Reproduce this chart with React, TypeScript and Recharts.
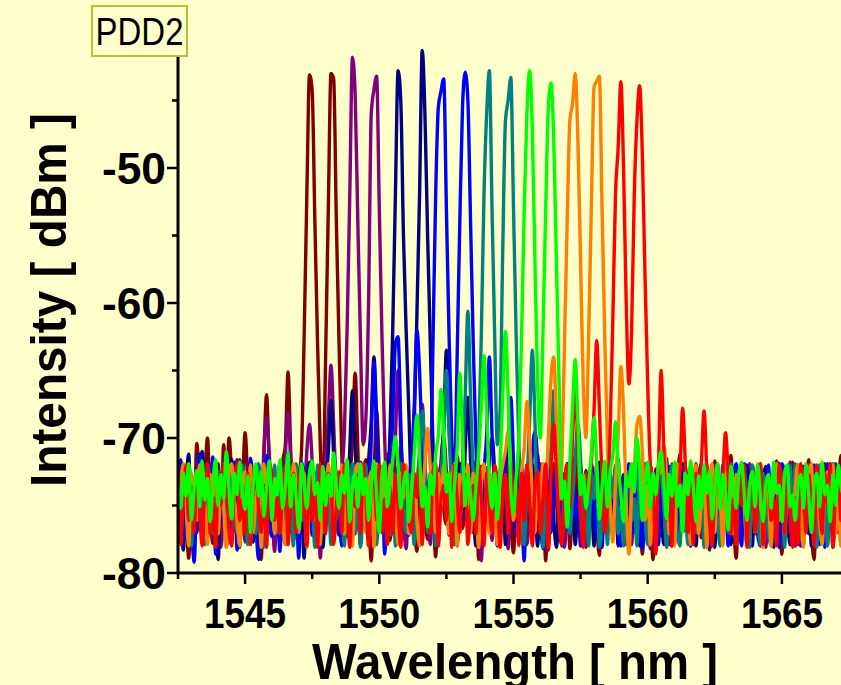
import { LineChart, Line, XAxis, YAxis } from 'recharts';

// OSA traces sampled every 0.1 nm from 1542.5 to 1567.5 nm (dBm)
const BROWN = [
  -73.8, -77.2, -72.1, -75.4, -78.9, -74.0, -76.1, -70.4, -73.5, -76.6,
  -72.9, -70.0, -75.2, -77.8, -73.6, -71.9, -76.4, -70.5, -74.2, -70.0,
  -72.8, -76.9, -71.6, -77.4, -73.9, -69.6, -73.2, -76.0, -74.8, -72.3,
  -75.1, -79.0, -71.5, -66.8, -71.8, -74.3, -77.1, -72.7, -76.5, -71.9,
  -70.5, -65.1, -71.0, -75.9, -77.4, -73.1, -71.0, -62.5, -52.0, -43.1,
  -44.3, -54.0, -63.0, -70.5, -74.6, -64.0, -53.0, -43.0, -43.4, -54.0,
  -63.0, -71.0, -75.8, -77.3, -73.4, -70.0, -65.2, -70.8, -76.9, -73.0,
  -71.6, -75.3, -79.1, -73.2, -68.0, -72.4, -76.1, -74.3, -71.2, -77.6,
  -74.5, -72.2, -73.6, -70.5, -73.9, -76.8, -75.0, -71.8, -76.3, -78.4,
  -73.0, -71.4, -75.7, -77.5, -72.6, -74.9, -78.8, -73.7, -72.0, -75.2,
  -76.4, -73.1, -74.6, -77.9, -71.3, -73.8, -76.7, -75.1, -72.5, -76.0,
  -73.9, -71.7, -79.0, -74.8, -72.9, -76.2, -73.5, -77.3, -72.2, -75.5,
  -72.7, -76.8, -74.1, -71.5, -75.6, -78.5, -73.6, -72.4, -77.0, -74.3,
  -76.9, -72.8, -75.3, -73.4, -71.2, -76.5, -74.0, -79.1, -73.1, -75.2,
  -71.9, -74.7, -77.6, -73.8, -75.9, -72.6, -78.2, -74.9, -71.4, -76.3,
  -73.5, -77.8, -72.4, -75.0, -71.8, -74.6, -76.4, -78.7, -73.2, -72.1,
  -75.6, -72.5, -76.9, -74.4, -71.6, -76.1, -73.7, -77.9, -72.8, -74.5,
  -76.3, -71.8, -73.6, -78.6, -74.7, -72.7, -75.4, -79.0, -72.3, -73.8,
  -77.2, -74.6, -71.5, -75.1, -72.9, -77.8, -73.6, -71.2, -75.0, -76.9,
  -72.8, -74.9, -76.7, -71.9, -73.8, -77.4, -75.3, -72.6, -78.3, -74.5,
  -71.7, -75.8, -73.5, -77.1, -72.4, -74.6, -71.3, -76.2, -78.9, -73.7,
  -75.0, -72.3, -74.8, -77.5, -72.9, -76.0, -73.8, -71.9, -77.8, -74.6,
  -72.6, -76.3, -73.9, -71.7, -75.2, -78.6, -72.8, -74.7, -76.2, -71.8,
  -74.9, -77.0, -72.7, -75.5, -73.4, -71.6, -76.8, -79.0, -73.3, -72.5,
  -75.2, -71.9, -77.3, -74.5, -72.6, -76.0, -73.7, -71.3, -75.1, -77.2,
  -73.8,
];

const PURPLE = [
  -75.3, -72.5, -77.0, -73.9, -71.8, -76.2, -78.8, -72.9, -74.6, -71.6,
  -76.7, -73.5, -72.0, -77.3, -74.8, -72.4, -78.1, -75.2, -71.9, -73.9,
  -77.2, -74.6, -72.7, -71.6, -75.0, -77.7, -73.4, -71.8, -76.1, -74.3,
  -72.6, -76.2, -70.8, -68.5, -71.2, -75.0, -78.4, -73.6, -71.9, -77.0,
  -71.3, -68.2, -71.8, -76.0, -73.5, -77.6, -72.6, -74.2, -71.0, -69.0,
  -71.8, -76.1, -73.3, -78.9, -74.6, -71.7, -68.5, -64.6, -69.0, -74.2,
  -76.5, -72.8, -69.5, -62.0, -52.0, -41.8, -44.5, -54.0, -63.0, -70.5,
  -68.5, -60.0, -46.0, -44.2, -43.2, -53.0, -62.5, -70.0, -74.6, -72.3,
  -75.1, -70.0, -65.0, -70.3, -76.0, -78.2, -73.7, -71.8, -77.1, -74.5,
  -71.8, -67.5, -71.9, -75.2, -77.9, -72.9, -74.7, -77.2, -71.7, -70.0,
  -72.5, -77.2, -74.4, -72.0, -78.0, -75.2, -72.6, -76.1, -73.5, -71.9,
  -77.0, -74.3, -72.8, -79.1, -73.7, -72.2, -75.0, -77.6, -72.9, -74.5,
  -76.0, -71.8, -73.6, -78.2, -74.6, -72.7, -77.0, -75.3, -72.1, -73.8,
  -77.9, -75.0, -72.5, -74.7, -77.2, -71.9, -73.7, -76.2, -78.3, -72.8,
  -74.4, -72.0, -76.8, -73.6, -78.1, -75.1, -72.7, -71.9, -77.0, -74.5,
  -72.6, -76.2, -78.1, -73.5, -72.0, -75.0, -77.6, -74.5, -72.8, -76.0,
  -71.9, -74.6, -77.2, -72.7, -78.0, -73.7, -75.1, -72.2, -76.1, -77.9,
  -73.6, -72.5, -75.0, -77.3, -71.9, -74.4, -78.2, -76.0, -72.6, -73.8,
  -77.1, -72.0, -74.5, -77.9, -75.1, -72.7, -73.5, -77.0, -72.1, -74.9,
  -74.6, -78.0, -72.8, -73.4, -76.1, -71.9, -77.1, -74.5, -78.2, -72.6,
  -75.0, -72.1, -77.0, -74.4, -72.7, -77.9, -73.6, -76.1, -72.0, -76.9,
  -72.6, -75.1, -78.0, -71.9, -74.5, -77.1, -73.7, -72.8, -76.0, -78.1,
  -73.5, -77.0, -72.1, -74.9, -77.9, -72.6, -74.4, -77.2, -71.8, -75.0,
  -78.0, -73.6, -72.5, -76.1, -72.0, -77.1, -74.9, -73.4, -77.9, -72.1,
  -74.5, -76.2, -77.8, -72.7, -75.1, -71.9, -77.0, -74.4, -72.6, -75.9,
  -75.0,
];

const NAVY = [
  -72.4, -75.1, -78.3, -73.6, -71.2, -76.8, -74.5, -77.0, -72.7, -71.0,
  -75.0, -77.4, -73.5, -71.9, -76.2, -79.0, -72.6, -74.6, -76.9, -73.3,
  -71.6, -76.0, -74.6, -78.1, -72.8, -75.3, -73.7, -72.0, -77.7, -74.4,
  -75.9, -72.5, -78.0, -74.4, -71.8, -75.1, -77.0, -73.6, -72.6, -76.3,
  -77.9, -73.5, -71.9, -75.0, -77.2, -72.6, -74.5, -78.9, -73.3, -71.8,
  -75.1, -77.0, -72.7, -74.4, -78.1, -73.6, -71.0, -67.2, -71.3, -75.6,
  -77.2, -73.5, -72.0, -75.9, -70.8, -66.5, -70.9, -74.4, -77.9, -72.6,
  -75.0, -71.7, -68.8, -64.0, -68.7, -74.1, -76.9, -72.5, -73.8, -69.5,
  -62.0, -52.0, -42.8, -45.0, -55.0, -62.0, -68.0, -73.5, -69.0, -61.0,
  -52.0, -41.3, -46.0, -55.0, -63.0, -70.5, -75.0, -77.7, -72.5, -69.0,
  -63.5, -68.8, -73.0, -76.9, -74.5, -71.9, -76.1, -71.0, -67.0, -71.6,
  -75.0, -78.0, -73.6, -72.1, -75.9, -74.4, -71.8, -70.0, -72.6, -77.0,
  -74.5, -72.7, -77.9, -75.1, -72.0, -73.6, -77.2, -74.4, -72.8, -78.1,
  -73.5, -76.1, -71.9, -74.6, -78.0, -72.7, -75.0, -77.1, -73.6, -72.1,
  -76.0, -78.1, -74.5, -72.6, -75.2, -71.9, -77.0, -73.7, -77.9, -74.4,
  -72.0, -75.1, -72.6, -77.1, -74.5, -78.0, -73.6, -71.8, -76.1, -72.7,
  -77.0, -73.5, -75.2, -72.1, -77.9, -74.6, -72.7, -76.0, -73.4, -77.1,
  -74.5, -71.9, -78.0, -73.6, -75.1, -77.2, -72.0, -74.4, -78.1, -72.8,
  -75.0, -77.9, -73.5, -72.1, -77.0, -74.6, -72.7, -75.1, -71.9, -76.1,
  -72.6, -74.4, -77.1, -78.0, -73.5, -72.0, -75.2, -72.7, -76.9, -74.5,
  -78.1, -72.6, -74.5, -76.1, -71.9, -75.0, -77.9, -73.6, -72.5, -77.0,
  -73.4, -77.1, -72.0, -74.6, -78.0, -72.7, -75.1, -76.9, -73.5, -72.1,
  -76.0, -74.4, -78.1, -72.6, -71.9, -77.1, -73.7, -75.0, -77.9, -74.5,
  -72.7, -72.0, -75.1, -77.0, -74.5, -73.6, -78.0, -72.6, -72.1, -76.1,
  -76.9, -75.0, -73.4, -71.9, -78.1, -74.6, -72.7, -77.1, -75.2, -72.0,
  -74.5,
];

const BLUE = [
  -76.0, -71.6, -73.8, -77.4, -72.5, -75.3, -79.2, -73.6, -71.2, -74.7,
  -72.6, -77.0, -75.1, -71.4, -78.6, -73.9, -76.2, -72.4, -74.5, -77.5,
  -73.7, -71.8, -78.3, -75.1, -72.6, -74.6, -77.3, -71.5, -73.4, -76.2,
  -79.0, -74.7, -72.6, -71.3, -76.0, -77.3, -73.5, -75.0, -78.4, -72.5,
  -71.9, -75.2, -77.0, -73.6, -74.4, -78.9, -71.8, -72.7, -76.1, -73.5,
  -77.2, -72.6, -74.5, -78.1, -72.0, -75.0, -73.6, -77.0, -71.4, -72.8,
  -75.1, -78.0, -73.4, -71.9, -76.2, -72.7, -77.1, -74.4, -71.8, -75.0,
  -73.6, -77.0, -70.0, -64.4, -69.8, -76.0, -72.6, -78.6, -73.5, -71.9,
  -68.6, -63.0, -62.5, -68.8, -75.0, -72.6, -77.2, -71.9, -67.8, -62.0,
  -65.0, -70.8, -76.0, -73.5, -73.0, -63.0, -52.0, -45.5, -44.3, -43.4,
  -53.0, -62.5, -70.0, -73.6, -64.0, -54.0, -45.5, -42.9, -45.0, -54.0,
  -63.0, -70.5, -75.1, -77.0, -72.5, -69.8, -64.0, -69.7, -74.1, -78.0,
  -72.6, -75.1, -71.9, -70.8, -67.0, -71.8, -77.0, -73.5, -75.2, -79.1,
  -72.0, -74.4, -71.2, -69.5, -71.8, -76.1, -78.2, -73.6, -72.5, -77.0,
  -74.5, -71.9, -75.1, -78.0, -72.6, -73.5, -77.1, -72.0, -75.9, -74.4,
  -78.0, -73.6, -72.7, -76.1, -71.9, -75.0, -77.2, -74.5, -78.1, -72.6,
  -72.1, -76.0, -74.4, -72.6, -77.1, -78.0, -73.5, -75.1, -71.9, -74.6,
  -77.0, -72.7, -75.1, -78.2, -73.6, -72.0, -76.1, -74.5, -72.6, -77.9,
  -73.5, -75.0, -71.9, -74.6, -78.0, -72.7, -77.1, -73.4, -75.2, -72.1,
  -76.1, -78.0, -73.6, -72.5, -75.1, -71.9, -74.4, -77.0, -78.1, -73.5,
  -72.6, -74.5, -77.1, -72.0, -73.6, -78.0, -75.1, -72.7, -71.9, -76.0,
  -78.0, -71.9, -73.5, -76.1, -72.6, -74.4, -77.2, -78.0, -73.6, -75.1,
  -72.0, -77.1, -75.0, -73.5, -78.1, -71.9, -72.6, -76.1, -74.5, -77.0,
  -75.1, -73.6, -78.0, -72.1, -72.7, -77.0, -74.4, -72.0, -76.1, -77.9,
  -72.5, -78.1, -71.9, -75.0, -77.1, -73.6, -72.0, -74.5, -78.0, -72.6,
  -73.5,
];

const TEAL = [
  -74.5, -77.1, -72.6, -75.0, -71.9, -78.0, -73.5, -76.1, -72.7, -74.4,
  -77.9, -72.0, -73.6, -77.1, -75.1, -72.5, -74.4, -71.9, -78.1, -76.0,
  -72.6, -75.1, -77.0, -73.5, -72.0, -74.6, -77.9, -72.7, -75.2, -77.1,
  -71.9, -73.6, -78.1, -76.0, -72.5, -75.1, -72.0, -77.0, -74.4, -73.5,
  -77.1, -72.7, -74.5, -78.0, -71.9, -73.6, -76.1, -75.0, -77.9, -72.6,
  -74.4, -78.1, -72.0, -75.1, -77.0, -72.6, -73.5, -77.9, -71.9, -76.1,
  -73.6, -75.0, -78.0, -72.7, -74.5, -71.9, -77.1, -73.4, -78.1, -75.1,
  -72.0, -77.0, -74.5, -72.6, -77.9, -73.5, -72.1, -76.1, -75.0, -77.2,
  -72.6, -78.0, -73.5, -71.9, -75.1, -77.0, -72.7, -74.4, -77.9, -73.6,
  -71.0, -68.0, -71.5, -77.0, -73.5, -71.9, -78.0, -75.1, -72.5, -69.8,
  -65.0, -69.8, -74.0, -77.9, -72.6, -76.1, -71.9, -67.0, -60.6, -67.0,
  -73.0, -77.0, -70.5, -62.5, -52.0, -46.0, -42.8, -53.0, -62.5, -70.5,
  -68.0, -56.0, -46.5, -45.0, -43.3, -53.0, -62.5, -70.5, -75.0, -77.9,
  -73.5, -68.8, -63.5, -68.8, -76.0, -72.6, -78.1, -74.4, -71.9, -70.8,
  -66.5, -70.8, -76.1, -77.9, -73.5, -72.0, -77.1, -74.5, -71.5, -69.0,
  -71.6, -77.0, -75.1, -78.0, -72.6, -74.5, -71.9, -78.1, -76.0, -73.5,
  -77.9, -72.7, -74.4, -72.0, -77.1, -75.0, -78.0, -73.6, -72.5, -76.1,
  -74.5, -78.0, -71.9, -73.6, -76.1, -77.9, -72.6, -75.1, -77.0, -72.1,
  -72.7, -75.1, -78.1, -74.4, -71.9, -73.5, -77.1, -78.0, -73.6, -75.0,
  -77.9, -72.0, -73.5, -77.0, -75.1, -72.6, -78.1, -71.9, -74.4, -77.1,
  -73.6, -76.1, -78.0, -72.5, -74.5, -77.0, -71.9, -75.1, -77.9, -72.6,
  -75.0, -72.7, -74.4, -78.1, -72.0, -73.5, -76.1, -77.9, -72.6, -74.5,
  -77.1, -78.0, -72.5, -71.9, -75.1, -74.4, -78.1, -73.6, -72.0, -76.0,
  -71.9, -74.5, -77.1, -77.9, -73.5, -72.6, -75.0, -77.0, -78.1, -72.0,
  -76.1, -72.7, -78.0, -73.4, -71.9, -75.1, -74.5, -77.9, -72.6, -77.0,
  -78.0,
];

const ORANGE = [
  -77.0, -73.5, -71.9, -75.1, -78.0, -72.6, -74.5, -76.1, -72.0, -73.6,
  -75.0, -77.9, -72.7, -74.4, -72.1, -77.1, -73.5, -75.2, -78.1, -72.6,
  -71.9, -74.5, -76.1, -78.0, -73.6, -72.5, -75.1, -72.0, -77.0, -74.4,
  -73.5, -78.1, -71.9, -75.0, -72.6, -74.5, -77.1, -73.6, -72.0, -76.1,
  -77.9, -72.7, -75.1, -71.9, -73.5, -77.0, -74.4, -72.6, -78.1, -73.6,
  -72.0, -76.1, -73.5, -77.9, -72.6, -75.0, -71.9, -74.5, -77.1, -72.7,
  -74.4, -72.0, -77.1, -73.6, -75.1, -78.0, -72.6, -71.9, -76.1, -73.5,
  -77.0, -73.6, -72.5, -78.1, -71.9, -74.4, -76.1, -72.7, -75.0, -72.0,
  -73.5, -75.1, -77.9, -72.6, -74.5, -72.0, -77.1, -73.6, -72.7, -76.0,
  -78.0, -74.4, -71.9, -69.3, -72.2, -73.6, -77.0, -72.6, -75.1, -72.0,
  -74.5, -77.1, -73.6, -71.9, -78.0, -72.7, -75.1, -73.5, -72.0, -77.0,
  -72.6, -75.0, -78.1, -73.5, -71.9, -74.5, -77.1, -72.7, -75.2, -77.9,
  -73.5, -72.0, -71.0, -69.5, -72.0, -76.1, -73.6, -78.0, -72.6, -70.8,
  -67.3, -70.2, -74.1, -77.0, -72.6, -75.1, -71.9, -73.5, -69.8, -65.5,
  -64.0, -68.8, -74.6, -72.0, -63.0, -54.0, -46.5, -45.2, -43.0, -48.0,
  -57.0, -66.0, -70.0, -62.5, -53.0, -44.0, -43.6, -43.2, -53.0, -62.5,
  -70.5, -74.8, -77.7, -73.3, -69.8, -64.7, -68.0, -74.7, -78.6, -74.2,
  -72.3, -69.0, -68.4, -71.0, -76.1, -73.5, -77.9, -72.6, -75.0, -71.9,
  -72.6, -70.5, -72.7, -77.1, -74.5, -78.0, -71.9, -73.6, -76.1, -72.5,
  -75.1, -77.9, -73.5, -72.0, -77.1, -74.4, -72.6, -78.1, -73.6, -71.9,
  -77.0, -72.6, -74.5, -78.0, -71.9, -75.1, -73.5, -77.1, -72.7, -74.4,
  -72.0, -75.1, -77.9, -73.6, -72.5, -77.0, -71.9, -74.5, -78.1, -73.5,
  -74.4, -78.0, -72.6, -71.9, -76.1, -73.5, -77.1, -72.7, -75.0, -77.9,
  -73.6, -72.0, -75.1, -78.1, -74.5, -72.6, -71.9, -77.0, -73.5, -76.1,
  -77.9, -73.6, -72.5, -75.0, -72.0, -77.1, -74.4, -78.0, -72.7, -73.5,
  -75.1,
];

const RED = [
  -72.6, -77.9, -74.5, -72.0, -76.1, -73.6, -77.0, -72.7, -75.1, -78.0,
  -73.5, -71.9, -77.1, -74.4, -78.1, -72.6, -75.0, -72.0, -73.6, -76.9,
  -78.0, -73.5, -71.9, -76.1, -74.5, -77.1, -72.6, -77.9, -73.6, -72.0,
  -75.1, -77.0, -73.5, -78.1, -71.9, -72.7, -76.1, -74.4, -77.1, -73.6,
  -72.0, -77.9, -74.5, -72.6, -77.0, -73.5, -71.9, -75.1, -78.0, -72.7,
  -76.1, -73.6, -78.1, -71.9, -74.4, -77.1, -72.6, -73.5, -77.9, -75.0,
  -72.5, -77.0, -72.0, -74.5, -78.1, -73.6, -75.1, -72.7, -77.1, -71.9,
  -74.4, -78.0, -73.5, -72.6, -76.1, -72.0, -77.0, -74.5, -77.9, -73.6,
  -77.1, -72.7, -75.0, -78.1, -71.9, -73.5, -76.1, -77.0, -72.6, -74.4,
  -72.0, -77.9, -73.6, -75.1, -77.1, -72.5, -71.9, -78.0, -74.5, -73.5,
  -76.1, -72.6, -78.1, -72.0, -74.4, -77.0, -73.6, -72.7, -77.9, -75.1,
  -73.5, -77.1, -71.9, -74.5, -78.0, -72.6, -75.0, -77.0, -72.0, -73.6,
  -78.1, -74.4, -72.7, -77.1, -71.9, -75.1, -73.5, -77.9, -72.6, -76.1,
  -72.0, -75.0, -78.0, -73.6, -72.5, -77.1, -74.4, -71.9, -78.1, -72.7,
  -69.0, -72.6, -76.1, -77.9, -73.5, -72.0, -75.1, -70.0, -66.5, -70.8,
  -76.0, -78.1, -72.6, -74.5, -71.9, -68.0, -62.8, -67.8, -73.1, -77.0,
  -74.8, -69.5, -61.3, -52.0, -48.5, -43.6, -50.0, -60.0, -66.0, -62.0,
  -52.0, -46.5, -43.9, -49.0, -58.0, -66.0, -72.0, -73.3, -78.6, -72.2,
  -65.0, -70.8, -76.1, -73.5, -78.0, -71.9, -75.1, -72.8, -67.8, -71.8,
  -77.0, -73.6, -77.9, -72.6, -74.4, -71.8, -68.0, -72.3, -76.1, -78.0,
  -73.5, -71.9, -75.1, -72.8, -69.6, -72.9, -77.1, -74.5, -77.9, -72.6,
  -75.0, -72.0, -78.1, -73.6, -72.6, -77.0, -74.4, -71.9, -77.9, -73.5,
  -72.7, -76.1, -74.5, -78.0, -72.0, -73.6, -77.1, -72.6, -75.1, -78.1,
  -74.4, -77.9, -71.9, -73.5, -77.0, -72.7, -75.1, -78.0, -72.0, -74.5,
  -77.1, -72.6, -75.0, -71.9, -78.1, -73.6, -72.5, -76.1, -74.4, -72.0,
  -72.7,
];

const GREEN = [
  -73.5, -75.2, -72.6, -74.3, -71.9, -76.1, -73.7, -72.4, -75.1, -71.7,
  -74.6, -73.0, -76.2, -73.4, -71.6, -75.0, -72.7, -74.5, -71.0, -73.8,
  -76.0, -72.6, -74.2, -71.8, -74.0, -75.3, -72.8, -77.0, -73.6, -71.9,
  -74.3, -72.5, -75.8, -73.6, -71.7, -76.1, -73.0, -74.2, -71.6, -75.2,
  -73.6, -71.1, -75.1, -72.7, -74.3, -76.7, -71.9, -73.5, -75.2, -72.6,
  -71.7, -74.2, -73.3, -76.1, -72.1, -75.0, -72.7, -74.3, -71.1, -73.6,
  -75.2, -72.7, -74.1, -71.6, -76.2, -73.5, -72.6, -75.1, -71.9, -74.2,
  -73.0, -76.1, -73.6, -71.7, -74.2, -77.0, -72.7, -71.8, -75.1, -73.5,
  -71.6, -69.9, -72.0, -75.2, -73.4, -72.5, -76.2, -74.1, -71.2, -68.3,
  -71.3, -75.1, -73.6, -76.6, -72.7, -74.2, -71.2, -69.8, -66.4, -69.8,
  -74.0, -72.6, -76.2, -73.5, -70.8, -65.2, -69.8, -75.0, -72.7, -74.2,
  -76.1, -73.6, -71.2, -67.8, -63.9, -67.8, -73.0, -75.2, -72.6, -76.0,
  -72.0, -66.8, -62.1, -66.8, -73.8, -75.6, -72.8, -70.0, -62.5, -53.0,
  -46.0, -42.8, -47.0, -57.0, -66.0, -70.0, -62.0, -53.0, -45.4, -43.7,
  -48.0, -57.0, -66.0, -74.5, -73.2, -76.6, -71.8, -67.8, -64.2, -68.8,
  -74.2, -72.7, -75.2, -73.5, -71.2, -68.5, -71.8, -76.0, -73.6, -71.7,
  -75.1, -72.5, -71.3, -68.8, -71.9, -74.2, -76.2, -72.8, -73.6, -71.9,
  -74.0, -70.0, -72.2, -76.1, -73.5, -71.8, -75.2, -72.6, -74.2, -72.0,
  -71.0, -73.2, -76.0, -72.7, -74.3, -71.8, -75.1, -73.5, -77.0, -72.6,
  -74.2, -71.7, -73.6, -76.2, -72.8, -75.2, -72.0, -74.1, -72.5, -76.0,
  -73.6, -71.9, -75.3, -72.7, -74.2, -76.8, -72.1, -73.5, -75.2, -72.6,
  -71.8, -74.2, -76.1, -73.6, -72.5, -75.1, -72.0, -74.3, -76.2, -73.5,
  -72.7, -75.2, -71.8, -74.1, -73.5, -76.2, -72.6, -72.0, -75.1, -74.2,
  -76.1, -73.6, -72.7, -75.2, -71.9, -74.3, -77.0, -73.5, -72.6, -75.1,
  -71.8, -74.2, -73.5, -76.2, -72.7, -75.0, -72.0, -73.6, -74.3, -72.5,
  -73.6,
];

const X_TICKS = [1542.5, 1545, 1547.5, 1550, 1552.5, 1555, 1557.5, 1560, 1562.5, 1565, 1567.5];
const X_LABELS = [1545, 1550, 1555, 1560, 1565];
const Y_TICKS = [-80, -75, -70, -65, -60, -55, -50, -45];
const Y_LABELS = [-80, -70, -60, -50];

// drawing order: green ends up on top, as in the OSA export
const SERIES = [
  { key: 'brown', values: BROWN, color: '#800000' },
  { key: 'purple', values: PURPLE, color: '#800080' },
  { key: 'navy', values: NAVY, color: '#000080' },
  { key: 'blue', values: BLUE, color: '#0000ff' },
  { key: 'teal', values: TEAL, color: '#008080' },
  { key: 'orange', values: ORANGE, color: '#ff8000' },
  { key: 'red', values: RED, color: '#ff0000' },
  { key: 'green', values: GREEN, color: '#00ff00' },
];

const BG = '#ffffcc';
const FONT = '"Liberation Sans", Arial, sans-serif';

const data = BROWN.map((_, i) => {
  const row: Record<string, number> = { x: +(1542.5 + i * 0.1).toFixed(1) };
  SERIES.forEach((s) => {
    row[s.key] = s.values[i];
  });
  return row;
});

function BottomTick({ x, y, payload }: any) {
  const major = X_LABELS.includes(payload.value);
  return (
    <g>
      <line x1={x} x2={x} y1={y} y2={y + (major ? 11 : 6)} stroke="#000" strokeWidth={2.5} />
      {major && (
        <text
          x={x}
          y={y + 55}
          textAnchor="middle"
          fontFamily={FONT}
          fontWeight="bold"
          fontSize={42}
          textLength={82}
          lengthAdjust="spacingAndGlyphs"
          fill="#000"
        >
          {payload.value}
        </text>
      )}
    </g>
  );
}

function TopTick({ x, y, payload }: any) {
  const major = X_LABELS.includes(payload.value);
  return <line x1={x} x2={x} y1={y} y2={y - (major ? 11 : 6)} stroke="#000" strokeWidth={2.5} />;
}

function LeftTick({ x, y, payload }: any) {
  const major = Y_LABELS.includes(payload.value);
  return (
    <g>
      <line x1={x} x2={x - (major ? 11 : 6)} y1={y} y2={y} stroke="#000" strokeWidth={2.5} />
      {major && (
        <text
          x={x - 12}
          y={y + 16}
          textAnchor="end"
          fontFamily={FONT}
          fontWeight="bold"
          fontSize={44}
          textLength={64}
          lengthAdjust="spacingAndGlyphs"
          fill="#000"
        >
          {payload.value}
        </text>
      )}
    </g>
  );
}

export default function App() {
  return (
    <div
      style={{
        position: 'absolute',
        left: 0,
        top: 0,
        width: 841,
        height: 685,
        overflow: 'hidden',
        background: BG,
      }}
    >
      <LineChart width={900} height={685} data={data} margin={{ top: 33, right: 51, left: 0, bottom: 0 }}>
        <XAxis
          dataKey="x"
          type="number"
          domain={[1542.5, 1567.5]}
          allowDataOverflow
          ticks={X_TICKS}
          interval={0}
          tickSize={0}
          tickMargin={0}
          tick={<BottomTick />}
          axisLine={{ stroke: '#000', strokeWidth: 3 }}
          height={112}
        />
        <XAxis
          xAxisId="top"
          orientation="top"
          dataKey="x"
          type="number"
          domain={[1542.5, 1567.5]}
          allowDataOverflow
          ticks={X_TICKS}
          interval={0}
          tickSize={0}
          tickMargin={0}
          tick={<TopTick />}
          axisLine={{ stroke: '#000', strokeWidth: 3 }}
          height={0}
        />
        <YAxis
          type="number"
          domain={[-80, -40]}
          allowDataOverflow
          ticks={Y_TICKS}
          interval={0}
          tickSize={0}
          tickMargin={0}
          tick={<LeftTick />}
          axisLine={{ stroke: '#000', strokeWidth: 3 }}
          width={178}
        />
        {SERIES.map((s) => (
          <Line
            key={s.key}
            dataKey={s.key}
            type="monotone"
            stroke={s.color}
            strokeWidth={3.4}
            dot={false}
            activeDot={false}
            isAnimationActive={false}
          />
        ))}
      </LineChart>
      <svg
        width={841}
        height={685}
        style={{ position: 'absolute', left: 0, top: 0, pointerEvents: 'none' }}
      >
        <rect x={92} y={6} width={95} height={50} fill={BG} stroke="#bcbc3c" strokeWidth={2} />
        <text
          x={139.5}
          y={45}
          textAnchor="middle"
          fontFamily={FONT}
          fontSize={38}
          textLength={88}
          lengthAdjust="spacingAndGlyphs"
          fill="#000"
        >
          PDD2
        </text>
        <text
          x={515}
          y={679}
          textAnchor="middle"
          fontFamily={FONT}
          fontWeight="bold"
          fontSize={50}
          textLength={406}
          lengthAdjust="spacingAndGlyphs"
          fill="#000"
        >
          Wavelength [ nm ]
        </text>
        <text
          transform="translate(66,300) rotate(-90)"
          textAnchor="middle"
          fontFamily={FONT}
          fontWeight="bold"
          fontSize={50}
          textLength={374}
          lengthAdjust="spacingAndGlyphs"
          fill="#000"
        >
          Intensity [ dBm ]
        </text>
      </svg>
    </div>
  );
}
